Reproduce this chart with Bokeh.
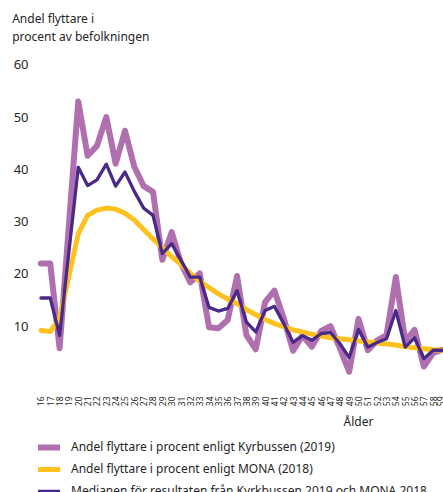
from bokeh.plotting import figure
from bokeh.models import (Range1d, FixedTicker, Legend, LegendItem, Title,
                          LinearAxis)
from bokeh.layouts import column
from bokeh.embed import file_html
from bokeh.resources import INLINE
from bokeh.core.properties import value
import math

ages = list(range(16, 60))
kyrbussen = [22.0, 22.0, 5.8, 29.4, 53.0, 42.6, 44.5, 50.0, 41.1, 47.4,
             40.5, 36.8, 35.7, 22.7, 28.0, 22.0, 18.4, 20.1, 9.8, 9.6,
             11.2, 19.6, 8.3, 5.6, 14.6, 16.8, 11.5, 5.3, 8.2, 6.1,
             9.1, 10.0, 5.8, 1.3, 11.4, 5.4, 7.3, 8.3, 19.4, 7.2,
             9.3, 2.3, 4.9, 5.5]
mona = [9.2, 9.0, 11.5, 19.6, 27.7, 31.2, 32.2, 32.6, 32.4, 31.6,
        30.3, 28.5, 26.7, 25.0, 23.3, 21.8, 20.1, 18.6, 17.4, 16.2,
        15.2, 14.3, 13.2, 12.2, 11.3, 10.5, 9.9, 9.3, 8.9, 8.5,
        8.1, 7.8, 7.6, 7.4, 7.2, 7.0, 6.8, 6.6, 6.4, 6.1,
        5.9, 5.7, 5.5, 5.4]
median = [15.4, 15.4, 8.2, 24.3, 40.4, 36.9, 38.0, 41.0, 36.8, 39.5,
          35.8, 32.6, 31.2, 23.9, 25.8, 22.6, 19.4, 19.4, 13.6, 12.9,
          13.4, 16.8, 10.8, 8.9, 13.0, 13.8, 10.5, 6.9, 8.2, 7.3,
          8.6, 8.8, 6.7, 4.0, 9.4, 6.0, 6.9, 7.6, 13.0, 6.0,
          7.8, 3.8, 5.4, 5.4]
y_ticks = [10, 20, 30, 40, 50, 60]
series_names = ["Andel flyttare i procent enligt Kyrbussen (2019)",
                "Andel flyttare i procent enligt MONA (2018)",
                "Medianen för resultaten från Kyrkbussen 2019 och MONA 2018"]
title_lines = ["Andel flyttare i", "procent av befolkningen"]
x_title = "Ålder"
x_title_at = 50.0

PINK = "#b06fae"
YELLOW = "#ffc11e"
PURPLE = "#4a2a88"
TXT = "#262626"
FONT = "Noto Sans"

W = 443
H_MAIN, H_LEG = 432, 60
BL, BR, BT, BB = 32, 0, 45, 54

p = figure(width=W, height=H_MAIN, output_backend="svg", toolbar_location=None,
           title=None, x_range=Range1d(15.1, 59.1), y_range=Range1d(0, 63.7),
           min_border_left=BL, min_border_right=BR,
           min_border_top=BT, min_border_bottom=BB)
p.outline_line_color = None
p.grid.visible = False
p.background_fill_color = "white"
p.border_fill_color = "white"


def style_axis(ax):
    ax.axis_line_color = None
    ax.major_tick_line_color = None
    ax.minor_tick_line_color = None
    ax.major_tick_out = 0
    ax.major_tick_in = 0
    ax.minor_tick_out = 0
    ax.minor_tick_in = 0
    ax.major_label_text_color = TXT
    ax.major_label_text_font = FONT
    ax.axis_label = None


style_axis(p.xaxis[0])
style_axis(p.yaxis[0])

p.yaxis.ticker = FixedTicker(ticks=y_ticks)
p.yaxis.major_label_text_font_size = "13px"
p.yaxis.major_label_standoff = 4

p.xaxis.ticker = FixedTicker(ticks=ages)
p.xaxis.major_label_text_font_size = "8.5px"
p.xaxis.major_label_orientation = math.pi / 2
p.xaxis.major_label_standoff = 18

# second bottom axis carrying the axis title "Ålder"
ax2 = LinearAxis(ticker=FixedTicker(ticks=[x_title_at]),
                 major_label_overrides={x_title_at: x_title})
style_axis(ax2)
ax2.major_label_text_font_size = "12px"
ax2.major_label_standoff = 3
p.add_layout(ax2, "below")

series = [kyrbussen, mona, median]
line_styles = [dict(line_color=PINK, line_width=6),
               dict(line_color=YELLOW, line_width=5),
               dict(line_color=PURPLE, line_width=3.3)]
for ys, st in zip(series, line_styles):
    p.line(ages, ys, line_join="round", line_cap="round", **st)

# two-line chart title
p.add_layout(Title(text="\n".join(title_lines), align="left", offset=-20.3,
                   text_font=FONT, text_font_size="12px", text_color=TXT,
                   text_font_style="normal", text_line_height=1.1,
                   standoff=0), "above")

# legend strip below the chart (its lines fall outside its own y range)
q = figure(width=W, height=H_LEG, output_backend="svg", toolbar_location=None,
           title=None, x_range=Range1d(0, 1), y_range=Range1d(-2, -1),
           x_axis_location=None, y_axis_location=None, min_border=0)
q.outline_line_color = None
q.grid.visible = False
q.background_fill_color = "white"
q.border_fill_color = "white"
legend_renderers = [q.line(ages, ys, line_join="round", line_cap="round", **st)
                    for ys, st in zip(series, line_styles)]
legend = Legend(items=[LegendItem(label=value(n), renderers=[r])
                       for n, r in zip(series_names, legend_renderers)],
                location=(6, -7), orientation="vertical",
                padding=0, margin=0, spacing=5,
                glyph_width=22, glyph_height=16, label_height=16,
                label_standoff=11, label_text_font=FONT,
                label_text_font_size="12px", label_text_color=TXT,
                border_line_color=None, background_fill_alpha=0)
q.add_layout(legend)

layout = column(p, q, spacing=0)
open("out.html", "w").write(file_html(layout, INLINE))
